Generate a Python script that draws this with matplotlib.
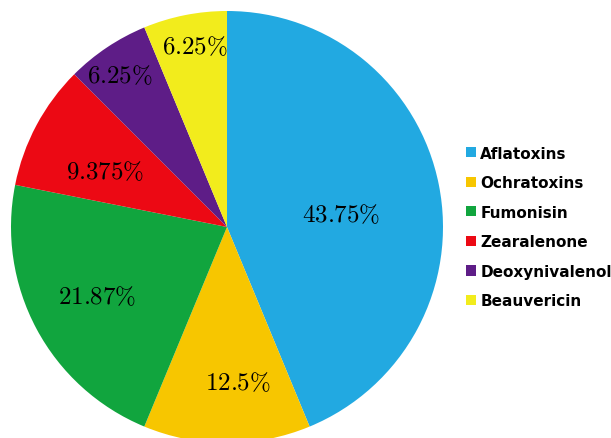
import matplotlib.pyplot as plt
from matplotlib.patches import Patch
import numpy as np

labels = ['Aflatoxins', 'Ochratoxins', 'Fumonisin', 'Zearalenone',
          'Deoxynivalenol', 'Beauvericin']
values = [43.75, 12.5, 21.87, 9.375, 6.25, 6.25]
pct_text = ['43.75%', '12.5%', '21.87%', '9.375%', '6.25%', '6.25%']
colors = ['#22A9E1', '#F7C600', '#11A53E', '#EC0914', '#5E1D87', '#F2EC1C']
# where each percentage label sits: radius fraction and angular fraction in wedge
label_r = [0.53, 0.72, 0.68, 0.62, 0.86, 0.85]
label_f = [0.47, 0.59, 0.50, 0.60, 0.56, 0.45]

plt.rcParams['mathtext.fontset'] = 'cm'

fig = plt.figure(figsize=(6.11, 4.39), dpi=100)
W, H = 611, 439
R = 216
cx, cy = 227, H - 228
ax = fig.add_axes([(cx - R) / W, (cy - R) / H, 2 * R / W, 2 * R / H])

wedges, _ = ax.pie(values, colors=colors, startangle=90, counterclock=False,
                   wedgeprops=dict(linewidth=0))
ax.set_xlim(-1, 1)
ax.set_ylim(-1, 1)
ax.set_aspect('equal')

for w, txt, rr, f in zip(wedges, pct_text, label_r, label_f):
    ang = np.deg2rad(w.theta1 + f * (w.theta2 - w.theta1))
    ax.text(rr * np.cos(ang), rr * np.sin(ang),
            '$\\mathrm{' + txt.replace('%', '\\%') + '}$',
            ha='center', va='center', fontsize=18, color='black')

handles = [Patch(facecolor=c, edgecolor='none') for c in colors]
leg = fig.legend(handles, labels, loc='center left',
                 bbox_to_anchor=(452 / W, 1 - 228 / H), frameon=False,
                 prop=dict(family='DejaVu Sans', weight='bold', size=11),
                 handlelength=0.65, handleheight=0.65, handletextpad=0.3,
                 labelspacing=0.95)

fig.savefig('out.png', dpi=100)
